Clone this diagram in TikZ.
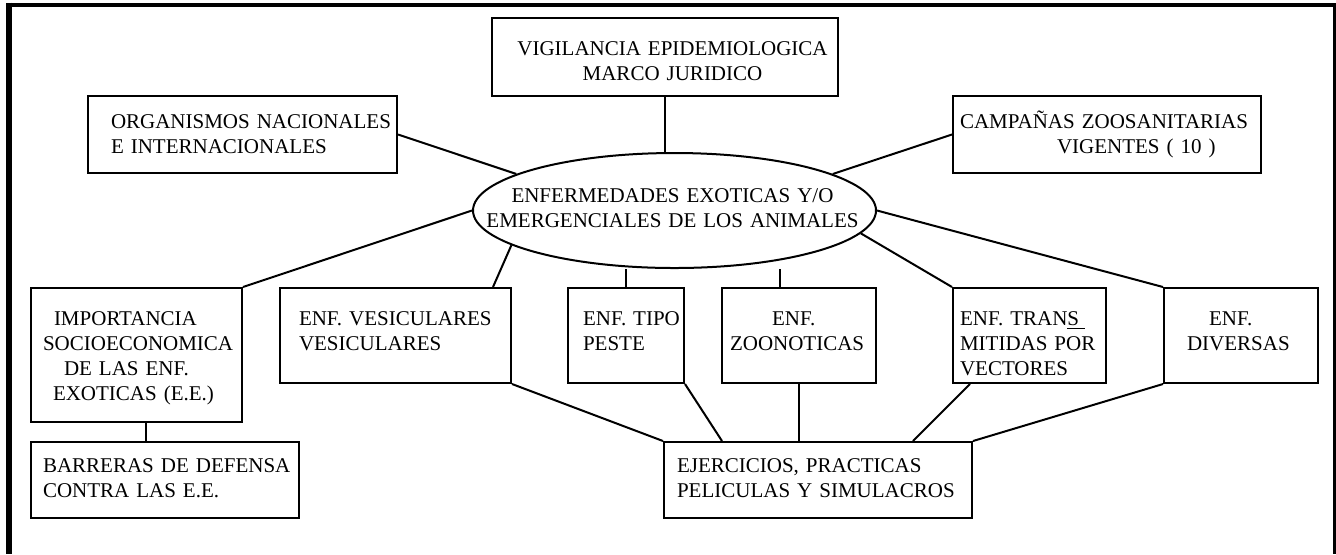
\documentclass[tikz,border=0pt]{standalone}
\usepackage{fontspec}
\setmainfont{Liberation Serif}
\usepackage{tikz}
\usetikzlibrary{shapes,fit}

\begin{document}
\begin{tikzpicture}[x=0.5pt,y=-0.5pt,line width=1pt,
  box/.style={draw,inner sep=0pt},
  txt/.style={inner sep=0pt,anchor=base west,align=left,text width=230pt,font=\fontsize{10.5}{12.5}\selectfont},
  ctxt/.style={txt,anchor=base,align=center}]
\useasboundingbox (0,0) rectangle (1336,554);
\draw[line width=3pt] (9,2.6) -- (9,554);
\draw[line width=2.4pt] (6,5) -- (1336,5);
\draw[line width=3pt] (1335.5,2.6) -- (1335.5,554);
\node[box,fit={(492,18) (838,96)}] (vig) {};
\node[box,fit={(88,96) (397,173)}] (org) {};
\node[box,fit={(953,96) (1261,173)}] (camp) {};
\node[draw,ellipse,minimum width=201.5pt,minimum height=57.5pt,inner sep=0pt] (enf) at (674.5,210.5) {};
\node[box,fit={(31,288) (242,422)}] (imp) {};
\node[box,fit={(31,442) (299,518)}] (barr) {};
\node[box,fit={(280,288) (511,383)}] (ves) {};
\node[box,fit={(568,288) (684,383)}] (peste) {};
\node[box,fit={(722,288) (876,383)}] (zoo) {};
\node[box,fit={(953,288) (1106,383)}] (trans) {};
\node[box,fit={(1164,288) (1318,383)}] (div) {};
\node[box,fit={(664,442) (972,518)}] (ejer) {};
\node[ctxt] (vigt) at (672.5,55) {VIGILANCIA EPIDEMIOLOGICA\\MARCO JURIDICO};
\node[txt] (orgt) at (110,128) {ORGANISMOS NACIONALES\\E INTERNACIONALES};
\node[txt] (campt) at (959,128) {CAMPAÑAS ZOOSANITARIAS\\\hspace*{48.5pt}VIGENTES ( 10 )};
\node[ctxt] (enft) at (672.5,202) {ENFERMEDADES EXOTICAS Y/O\\EMERGENCIALES DE LOS ANIMALES};
\node[txt] (impt) at (42,325) {\hspace*{5.5pt}IMPORTANCIA\\SOCIOECONOMICA\\\hspace*{10.5pt}DE LAS ENF.\\\hspace*{5pt}EXOTICAS (E.E.)};
\node[txt] (barrt) at (42,472) {BARRERAS DE DEFENSA\\CONTRA LAS E.E.};
\node[txt] (vest) at (298,325) {ENF. VESICULARES\\VESICULARES};
\node[txt] (pestet) at (582,325) {ENF. TIPO\\PESTE};
\node[txt] (zoot) at (729,325) {\hspace*{21pt}ENF.\\ZOONOTICAS};
\node[txt] (transt) at (959,325) {ENF. TRAN\underline{S\hspace{3pt}}\\MITIDAS POR\\VECTORES};
\node[txt] (divt) at (1186,325) {\hspace*{11pt}ENF.\\DIVERSAS};
\node[txt] (ejert) at (676,472) {EJERCICIOS, PRACTICAS\\PELICULAS Y SIMULACROS};
\draw (vig.south) -- (vig.south |- enf.north);
\draw (org.east) -- (enf.167);
\draw (camp.west) -- (enf.13);
\draw (imp.north east) -- (enf.west);
\draw ([xshift=-9.5pt]ves.north east) -- (enf.192);
\draw (peste.north) -- (peste.north |- enf.south);
\draw ([xshift=-9.5pt]zoo.north) -- ([xshift=-9.5pt]zoo.north |- enf.south);
\draw (trans.north west) -- (enf.353);
\draw (div.north west) -- (enf.east);
\draw ([xshift=4.5pt]imp.south) -- ([xshift=4.5pt]imp.south |- barr.north);
\draw (ves.south east) -- (ejer.north west);
\draw (peste.south east) -- ([xshift=29.5pt]ejer.north west);
\draw (zoo.south) -- (zoo.south |- ejer.north);
\draw ([xshift=9pt]trans.south west) -- ([xshift=125pt]ejer.north west);
\draw (div.south west) -- (ejer.north east);
\end{tikzpicture}
\end{document}
